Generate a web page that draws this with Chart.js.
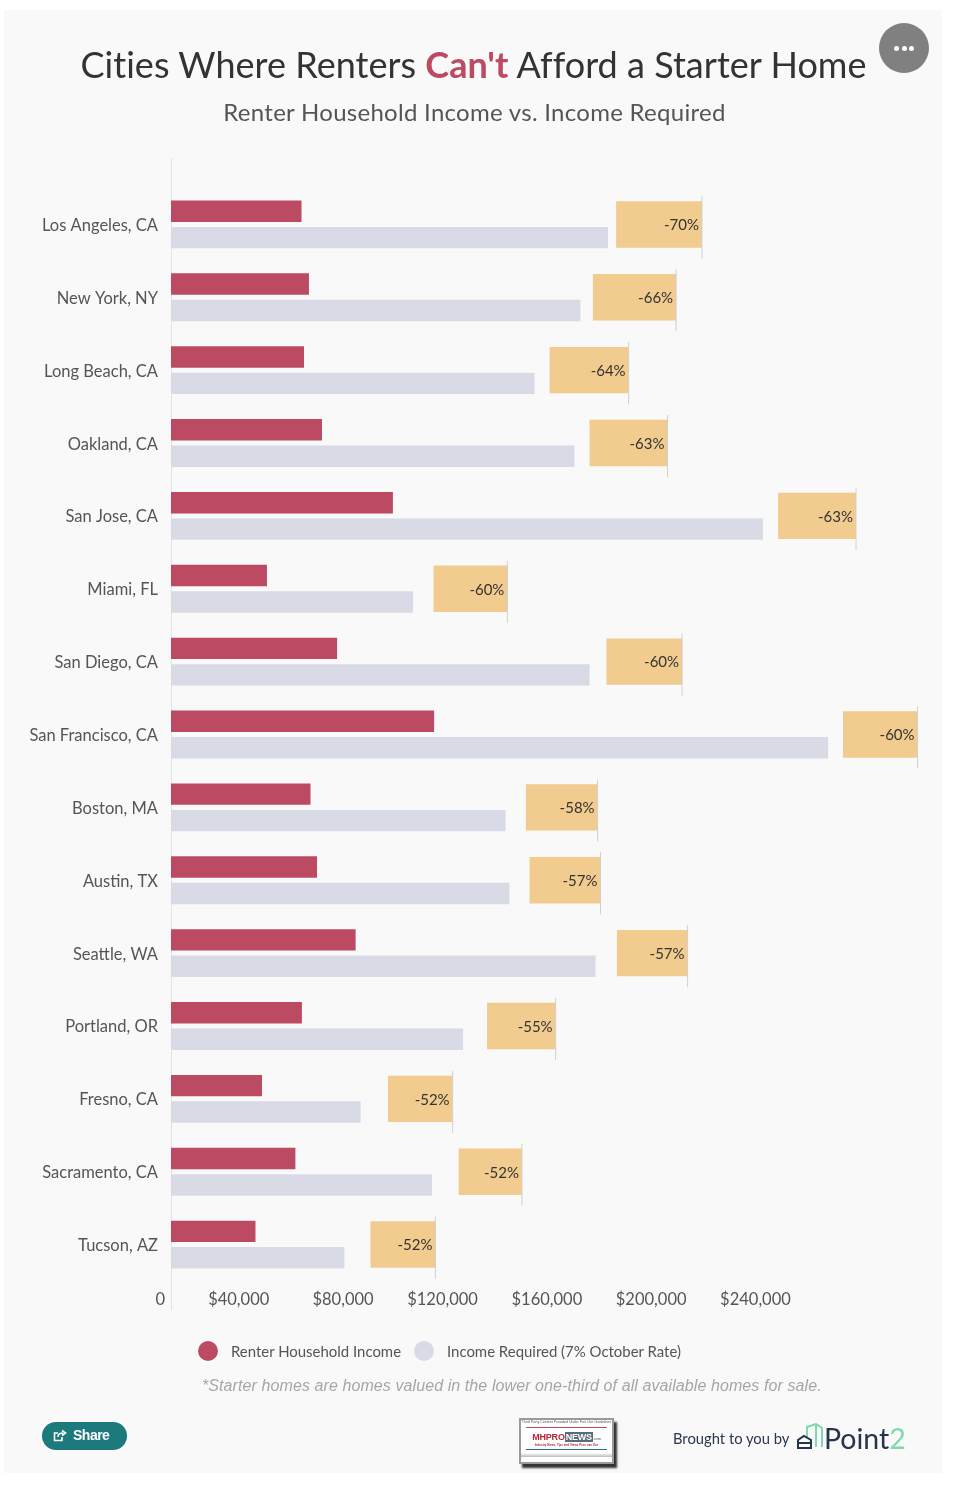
<!DOCTYPE html>
<html><head><meta charset="utf-8">
<script src="https://cdn.jsdelivr.net/npm/chart.js@4"></script>
<style>
html,body{margin:0;padding:0;background:#fff;width:962px;height:1485px;overflow:hidden;font-family:Lato,sans-serif}
#panel{position:absolute;left:4px;top:10px;width:938px;height:1463px;background:#f9f9f9}
canvas{position:absolute;left:0;top:0}
.t{position:absolute;white-space:nowrap}
#title{left:0;width:947px;text-align:center;top:41px;font-size:36px;line-height:46px;color:#333;letter-spacing:.03px}
#title b{color:#bc4a63;font-weight:700}
#sub{left:0;width:949px;text-align:center;top:97px;font-size:24px;line-height:30px;color:#555;letter-spacing:.28px}
#menu{position:absolute;left:879px;top:23px;width:50px;height:50px;border-radius:25px;background:#808080}
#menu i{position:absolute;top:23px;width:5px;height:5px;border-radius:3px;background:#fff}
.dot{position:absolute;width:20px;height:20px;border-radius:10px;top:1341px}
.leg{top:1341px;font-size:14.95px;line-height:20px;color:#555}
#note{left:202px;top:1376px;font-size:16px;line-height:20px;font-style:italic;color:#a6a6a6;font-family:"Liberation Sans",sans-serif;letter-spacing:.09px}
#share{position:absolute;left:42px;top:1422px;width:85px;height:28px;border-radius:14px;background:#1c7a7d;color:#fff;font:bold 14px "Liberation Sans",sans-serif;line-height:27px}
#share span{position:absolute;left:31px;letter-spacing:-.5px}
#share svg{position:absolute;left:11px;top:7px}
#thumb{position:absolute;left:519px;top:1418px;width:91px;height:42px;background:#fff;border:2px solid #9a9a9a;box-shadow:3px 4px 2px #333;overflow:hidden;text-align:center}
#thumb .a{font:3.6px "Liberation Sans",sans-serif;color:#555;line-height:5px;white-space:nowrap}
#thumb .r{height:1px;background:#bc4a63;margin:2px 5px 0}
#thumb .m{font:bold 9px "Liberation Sans",sans-serif;line-height:11px;color:#b5263a;margin-top:4px;letter-spacing:-.2px}
#thumb .m em{font-style:normal;background:#5a6b7c;color:#fff;padding:0 1px}
#thumb .m u{text-decoration:none;font:4px "Liberation Sans",sans-serif;color:#456}
#thumb .s{font:bold 3px "Liberation Sans",sans-serif;color:#b5263a;line-height:5px}
#thumb .g{height:1px;background:#1c7a7d;margin:1px 5px 0}
#thumb .b{height:4px;margin-top:3px;background:linear-gradient(#fff,#bbb)}
#by{left:673px;top:1429px;font-size:14.75px;line-height:18px;color:#2c3650}
#p2{left:824px;top:1421px;font-size:28.5px;line-height:34px;color:#27324d}
#p2 s{text-decoration:none;color:#7fd8ae}
</style></head><body>
<div id="panel"></div>
<canvas id="c" width="962" height="1485"></canvas>
<div class="t" id="title">Cities Where Renters <b>Can't</b> Afford a Starter Home</div>
<div class="t" id="sub">Renter Household Income vs. Income Required</div>
<div id="menu"><i style="left:15px"></i><i style="left:22.5px"></i><i style="left:30px"></i></div>
<div class="dot" style="left:198px;background:#bc4a63"></div>
<div class="t leg" id="l1" style="left:231px"></div>
<div class="dot" style="left:414px;background:#d8dae6"></div>
<div class="t leg" id="l2" style="left:447px"></div>
<div class="t" id="note">*Starter homes are homes valued in the lower one-third of all available homes for sale.</div>
<div id="share"><svg width="14" height="14" viewBox="0 0 14 14" fill="none" stroke="#fff" stroke-width="1.6"><path d="M9 8v3.5H1.5V4H5"/><path d="M5 8c0-3 2-4 5-4M9 1.5 12.5 4 9 6.5" /></svg><span>Share</span></div>
<div id="thumb"><div class="a">Third Party Content Provided Under Fair Use Guidelines</div><div class="r"></div><div class="m">MHPRO<em>NEWS</em><u>.com</u></div><div class="s">Industry News, Tips and Views Pros can Use</div><div class="g"></div><div class="b"></div></div>
<div class="t" id="by">Brought to you by</div>
<svg style="position:absolute;left:796px;top:1423px" width="30" height="27" viewBox="0 0 30 27" fill="none" stroke-width="2"><path d="M11 21V4l9-3 6 4v19" stroke="#7fd8ae"/><path d="M20 1v23" stroke="#7fd8ae"/><path d="M2 25v-8l6-4 7 4v8z" stroke="#27324d" fill="#f9f9f9"/><path d="M2 20h13" stroke="#27324d"/></svg>
<div class="t" id="p2">Point<s>2</s></div>
<script>
const categories = ["Los Angeles, CA","New York, NY","Long Beach, CA","Oakland, CA","San Jose, CA","Miami, FL","San Diego, CA","San Francisco, CA","Boston, MA","Austin, TX","Seattle, WA","Portland, OR","Fresno, CA","Sacramento, CA","Tucson, AZ"];
const renterIncome = [50050,52900,51000,57900,85100,36800,63700,100900,53500,56000,70800,50200,34900,47700,32400];
const incomeRequired = [167600,157000,139400,154700,227000,92800,160500,252000,128300,129800,162800,112000,72700,100100,66500];
const gapStart = [170700,161800,145200,160500,232800,100700,167000,257700,136100,137500,171000,121200,83200,110300,76500];
const gapEnd = [203600,193700,175500,190400,262700,129000,196000,286300,163600,164700,198100,147500,108000,134600,101400];
const gapLabels = ["-70%","-66%","-64%","-63%","-63%","-60%","-60%","-60%","-58%","-57%","-57%","-55%","-52%","-52%","-52%"];
const xTicks = [0,40000,80000,120000,160000,200000,240000];
const seriesNames = ["Renter Household Income","Income Required (7% October Rate)"];
document.getElementById('l1').textContent = seriesNames[0];
document.getElementById('l2').textContent = seriesNames[1];

const overlay = {
  id:'overlay',
  beforeDatasetsDraw(ch){
    const g=ch.ctx, x0=Math.round(ch.scales.x.getPixelForValue(0))+.5;
    g.save(); g.strokeStyle='#e3e3e3'; g.lineWidth=1;
    g.beginPath(); g.moveTo(x0,158); g.lineTo(x0,1310); g.stroke(); g.restore();
  },
  afterDatasetsDraw(ch){
    const g=ch.ctx; g.save();
    g.font='15px Lato, sans-serif'; g.textAlign='right'; g.textBaseline='middle';
    gapLabels.forEach((s,i)=>{
      const x=ch.scales.x.getPixelForValue(gapEnd[i]), y=ch.scales.y.getPixelForValue(i);
      g.fillStyle='#d0d0d0'; g.fillRect(x-.5,y-28,1,62);
      g.fillStyle='#333'; g.fillText(s,x-3,y+1);
    });
    g.restore();
  }
};
Chart.defaults.font.family='Lato, sans-serif';
new Chart(document.getElementById('c'),{
  type:'bar',
  plugins:[overlay],
  data:{labels:categories,datasets:[
    {label:seriesNames[0],data:renterIncome,backgroundColor:'#bc4a63',categoryPercentage:.726,barPercentage:.81,order:2},
    {label:seriesNames[1],data:incomeRequired,backgroundColor:'#d8dae6',categoryPercentage:.726,barPercentage:.81,order:2},
    {label:'Gap',data:gapStart.map((s,i)=>[s,gapEnd[i]]),backgroundColor:'#f2cb8e',grouped:false,categoryPercentage:.637,barPercentage:1,order:1}
  ]},
  options:{
    indexAxis:'y',responsive:false,animation:false,
    layout:{padding:{left:0,right:40,top:188,bottom:0}},
    plugins:{legend:{display:false},tooltip:{enabled:false}},
    scales:{
      x:{min:0,max:288000,
        grid:{display:false},border:{display:false},
        afterBuildTicks(s){s.ticks=xTicks.map(v=>({value:v}));},
        afterFit(s){s.height=204;},
        ticks:{autoSkip:false,maxRotation:0,align:'end',labelOffset:-6,padding:.5,color:'#555',font:{size:16.5},
          callback:v=>v===0?'0':'$'+v.toLocaleString('en-US')}},
      y:{grid:{display:false,drawTicks:false},border:{display:false},
        afterFit(s){s.width=171;},
        ticks:{autoSkip:false,padding:13,labelOffset:1.2,color:'#555',font:{size:16.5}}}
    }
  }
});
</script>
</body></html>
